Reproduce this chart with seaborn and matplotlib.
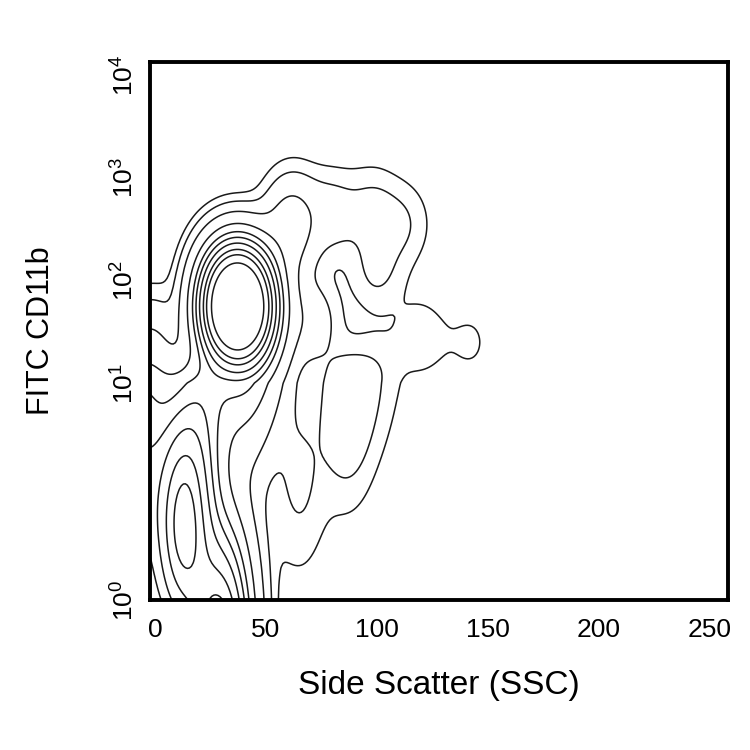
import numpy as np
import pandas as pd
import matplotlib
matplotlib.use("Agg")
import matplotlib.pyplot as plt
import seaborn as sns

# event groups: side scatter, FITC CD11b, relative weight
ssc = [31, 37, 44, 31, 37, 44, 31, 37, 44,           # CD11b+ main cluster
       13, 13,                                        # low CD11b cluster
       29, 30,                                        # events piled on the floor
       -8, -8, -5, -2, -2,                            # left edge
       22, 40,                                        # between the clusters
       62, 80, 98, 112, 100, 88, 120, 142,            # high SSC tail
       100, 85, 65, 40, 60, 70, 50]
cd11b = [31.6, 31.6, 31.6, 56.2, 56.2, 56.2, 105, 105, 105,
         1.58, 3.16,
         0.5, 1.1,
         2.5, 6.3, 0.63, 10, 31.6,
         7.9, 10,
         500, 450, 500, 355, 126, 8.5, 28, 25,
         12.6, 7.1, 3.5, 1.3, 251, 40, 15.8]
weight = [1.5, 3, 1.5, 3, 6, 3, 1.5, 3, 1.5,
          3.5, 3.5,
          6, 2,
          1.5, 1, 1, 0.5, 0.2,
          1.2, 0.6,
          0.22, 0.15, 0.12, 0.1, 0.12, 0.12, 0.08, 0.05,
          0.08, 0.1, 0.12, 0.08, 0.3, 0.2, 0.25]

x_ticks = [0, 50, 100, 150, 200, 250]
y_ticks = [1, 10, 100, 1000, 10000]
y_labels = ["$10^{0}$", "$10^{1}$", "$10^{2}$", "$10^{3}$", "$10^{4}$"]
levels = [0.004, 0.015, 0.04, 0.08, 0.14, 0.22, 0.31, 0.42, 0.55, 0.7]

# kernel shape wanted: sd in SSC units and SSC-units per decade
kern_sx = 8.0
kern_ratio = 30.0

x = np.array(ssc, float)
ly = np.log10(cd11b)
w = np.array(weight, float)
W = w.sum()
mx, my = (w * x).sum() / W, (w * ly).sum() / W
sxx = (w * (x - mx) ** 2).sum()
syy = (w * (ly - my) ** 2).sum()
sxy = (w * (x - mx) * (ly - my)).sum()

# two tiny off-scale events far outside the window so the kernel is axis aligned
c = abs(sxy)
d = sxx - kern_ratio ** 2 * syy
r = (-d + np.sqrt(d ** 2 + 4 * c ** 2 * kern_ratio ** 2)) / (2 * c)
b = 15.0
a = r * b
u = c / (2 * a * b)
sg = np.sign(sxy)
x_all = np.r_[x, mx - a, mx + a]
y_all = np.r_[np.array(cd11b, float), 10 ** (my + sg * b), 10 ** (my - sg * b)]
w_all = np.r_[w, u, u]
cov = np.cov(np.vstack([x_all, np.log10(y_all)]), aweights=w_all)
bw = kern_sx / np.sqrt(cov[0, 0])

df = pd.DataFrame({"ssc": x_all, "cd11b": y_all, "w": w_all})

sns.set_style("white")
plt.rcParams["font.family"] = ["Liberation Sans", "DejaVu Sans"]
plt.rcParams["mathtext.default"] = "regular"
for k in ["text.color", "axes.labelcolor", "xtick.color", "ytick.color"]:
    plt.rcParams[k] = "black"

fig = plt.figure(figsize=(7.5, 7.5), dpi=100)
ax = fig.add_axes([0.2, 0.2, 0.771, 0.717])

sns.kdeplot(data=df, x="ssc", y="cd11b", weights="w", log_scale=(False, True),
            bw_method=bw, levels=levels, color="#1a1a1a", linewidths=1.1,
            gridsize=300, clip=((-12, 262), (-0.6, 4.3)), ax=ax)

# first decade is drawn stretched, as on the cytometer display
k1 = 2.113

def fwd(v):
    l = np.log10(np.clip(v, 1e-12, None))
    return np.where(l >= 1, l, 1 - k1 * (1 - l))

def inv(t):
    l = np.where(t >= 1, t, 1 - (1 - t) / k1)
    return 10 ** l

ax.set_yscale("function", functions=(fwd, inv))
ax.set_xlim(-2.3, 258.5)
ax.set_ylim(1, 10 ** 4.127)
ax.set_xticks(x_ticks)
ax.set_xticklabels([str(t) for t in x_ticks], fontsize=19)
ax.set_yticks(y_ticks)
ax.set_yticklabels(y_labels, fontsize=19, rotation=90, va="center")
ax.minorticks_off()
ax.tick_params(axis="both", length=0)
ax.tick_params(axis="x", pad=13)
ax.tick_params(axis="y", pad=8)
for s in ax.spines.values():
    s.set_linewidth(2.8)
    s.set_color("black")

ax.set_xlabel("Side Scatter (SSC)", fontsize=24, labelpad=20)
ax.set_ylabel("FITC CD11b", fontsize=22, labelpad=40)

fig.savefig("out.png", dpi=100)
